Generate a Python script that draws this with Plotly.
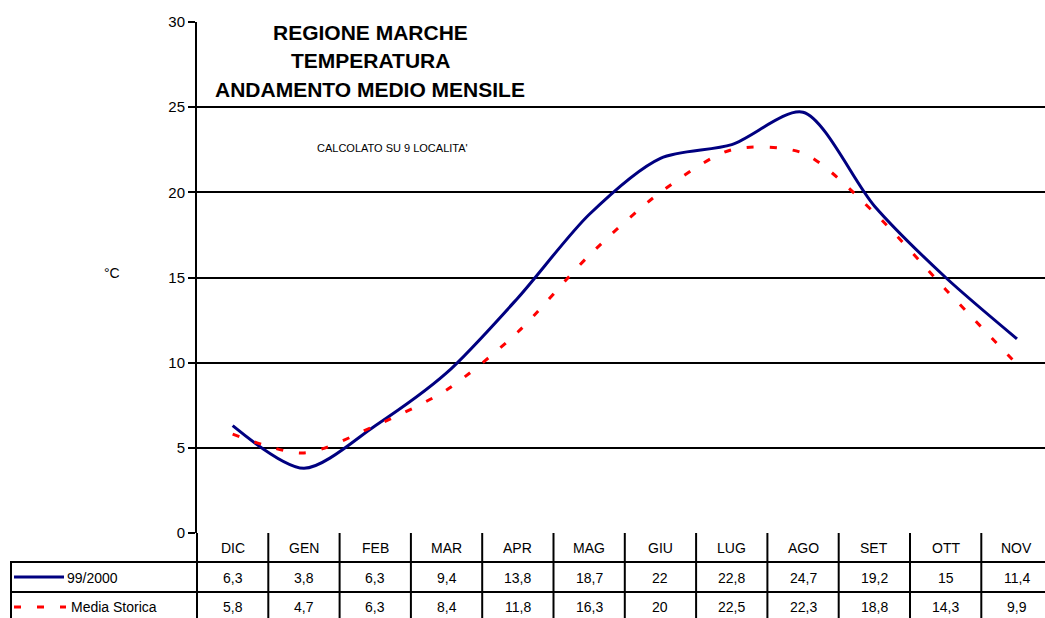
import plotly.graph_objects as go

months = ["DIC", "GEN", "FEB", "MAR", "APR", "MAG", "GIU", "LUG", "AGO", "SET", "OTT", "NOV"]
serie_99 = [6.3, 3.8, 6.3, 9.4, 13.8, 18.7, 22, 22.8, 24.7, 19.2, 15, 11.4]
media_storica = [5.8, 4.7, 6.3, 8.4, 11.8, 16.3, 20, 22.5, 22.3, 18.8, 14.3, 9.9]
series_names = ["99/2000", "Media Storica"]
y_ticks = [0, 5, 10, 15, 20, 25, 30]
title_lines = ["REGIONE MARCHE", "TEMPERATURA", "ANDAMENTO MEDIO MENSILE"]
subtitle = "CALCOLATO SU 9 LOCALITA'"

W, H = 1045, 618
L, R, T, B = 197, 0, 22, 85
PH = H - T - B
PW = W - L - R
col_px = 71.3
xmax = -0.5 + PW / col_px

def py(ypx):
    return (H - B - ypx) / PH

def px(xpx):
    return (xpx - L) / PW

def fmt(v):
    return f"{v:g}".replace(".", ",")

FONT = "Liberation Sans, Arial, sans-serif"
xs = list(range(len(months)))

fig = go.Figure()
fig.add_trace(go.Scatter(x=xs, y=serie_99, mode="lines", name=series_names[0],
                         line=dict(color="#000080", width=3, shape="spline", smoothing=0.8)))
fig.add_trace(go.Scatter(x=xs, y=media_storica, mode="lines", name=series_names[1],
                         line=dict(color="#FF0000", width=3, shape="spline", smoothing=0.8,
                                   dash="7px,16px")))

shapes = []
blk = dict(color="black", width=2)
for ypx in [562, 592]:
    shapes.append(dict(type="line", xref="paper", yref="paper", x0=px(10), x1=1.02,
                       y0=py(ypx), y1=py(ypx), line=blk))
shapes.append(dict(type="line", xref="paper", yref="paper", x0=px(11), x1=px(11),
                   y0=py(562), y1=py(625), line=blk))
shapes.append(dict(type="line", xref="paper", yref="paper", x0=0, x1=0,
                   y0=0, y1=py(625), line=blk))
for k in range(len(months) - 1):
    shapes.append(dict(type="line", xref="x", yref="paper", x0=k + 0.5, x1=k + 0.5,
                       y0=0, y1=py(625), line=blk))
shapes.append(dict(type="line", xref="paper", yref="paper", x0=px(14), x1=px(64),
                   y0=py(577), y1=py(577), line=dict(color="#000080", width=3)))
shapes.append(dict(type="line", xref="paper", yref="paper", x0=px(14), x1=px(66),
                   y0=py(607), y1=py(607), line=dict(color="#FF0000", width=3, dash="7px,16px")))

def A(x, y, text, size, xref="paper", xanchor="center"):
    return dict(x=x, y=y, xref=xref, yref="paper", text=text, showarrow=False,
                xanchor=xanchor, yanchor="middle",
                font=dict(family=FONT, size=size, color="black"))

ann = []
for i, m in enumerate(months):
    ann.append(A(i, py(548), m, 14, xref="x"))
    ann.append(A(i, py(578), fmt(serie_99[i]), 14, xref="x"))
    ann.append(A(i, py(607), fmt(media_storica[i]), 14, xref="x"))
ann.append(A(px(65), py(578), series_names[0], 14, xanchor="left"))
ann.append(A(px(69), py(607), series_names[1], 14, xanchor="left"))
for j, line in enumerate(title_lines):
    ann.append(A(px(370), py(32 + 28.5 * j), "<b>" + line + "</b>", 21))
ann.append(A(px(392), py(148), subtitle, 11))
ann.append(A(px(112), py(273), "°C", 14))

fig.update_layout(
    width=W, height=H,
    margin=dict(l=L, r=R, t=T, b=B, pad=0),
    paper_bgcolor="white", plot_bgcolor="white",
    showlegend=False,
    shapes=shapes, annotations=ann,
    xaxis=dict(range=[-0.5, xmax], showticklabels=False, showgrid=False, zeroline=False,
               showline=False, ticks=""),
    yaxis=dict(range=[0, 30], tickvals=y_ticks, showgrid=True, gridcolor="black", gridwidth=1.5,
               zeroline=False, showline=True, linecolor="black", linewidth=2,
               ticks="outside", ticklen=7, tickcolor="black", tickwidth=1.5,
               tickfont=dict(family=FONT, size=15, color="black")),
)
fig.write_html("out.html", config={"displayModeBar": False},
               post_script="document.body.style.margin='0';document.body.style.overflow='hidden';")
